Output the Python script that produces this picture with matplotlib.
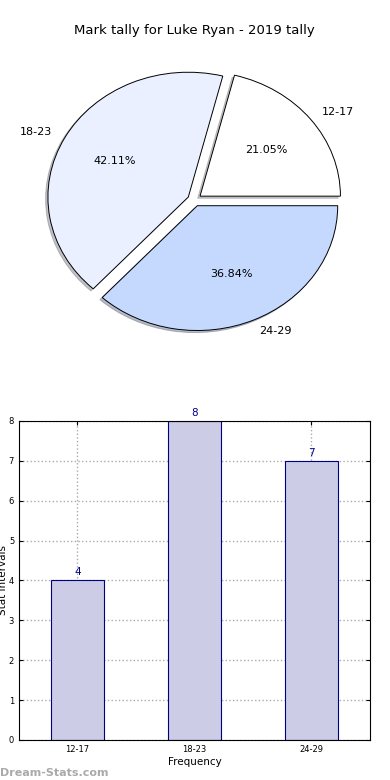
import matplotlib.pyplot as plt
import numpy as np

title = 'Mark tally for Luke Ryan - 2019 tally'
groups = ['12-17', '18-23', '24-29']
counts = [4, 8, 7]
pie_colors = ['#ffffff', '#eaf0ff', '#c5d9ff']

fig = plt.figure(figsize=(3.9, 7.8), dpi=100)

# pie on top
ax1 = fig.add_axes([0.0487, 0.5436, 0.9, 0.4])
ax1.pie(counts, labels=groups, colors=pie_colors, explode=[0.05] * 3,
        autopct='%1.2f%%', startangle=0,
        shadow={'ox': -0.012, 'oy': -0.012, 'shade': 0.45},
        wedgeprops={'edgecolor': 'black', 'linewidth': 0.7},
        textprops={'fontsize': 8})
ax1.set_aspect('auto')
ax1.set_xlim(-1.25, 1.25)
ax1.set_ylim(-1.25, 1.25)
ax1.set_title(title, fontsize=9.5, pad=7)

# bars underneath
ax2 = fig.add_axes([0.0487, 0.0513, 0.9, 0.409])
x = np.arange(len(groups))
ax2.bar(x, counts, width=0.45, color='#ccccE6', edgecolor='navy', linewidth=0.8, zorder=2)
for xi, c in zip(x, counts):
    ax2.text(xi, c + 0.08, str(c), ha='center', va='bottom', color='darkblue', fontsize=7.5)
ax2.set_xlim(-0.5, 2.5)
ax2.set_ylim(0, 8)
ax2.set_xticks(x)
ax2.set_xticklabels(groups)
ax2.set_yticks(range(9))
ax2.tick_params(labelsize=6, direction='in', right=True, top=True, length=3)
ax2.grid(True, linestyle=':', color='#aaaaaa', linewidth=1, zorder=0)
ax2.set_axisbelow(True)
ax2.set_xlabel('Frequency', fontsize=7.5, labelpad=2)
ax2.set_ylabel('Stat Intervals', fontsize=7.5)
ax2.yaxis.set_label_coords(-0.03, 0.5)

fig.text(0.0, 0.005, 'Dream-Stats.com', fontsize=8, color='#aaaaaa', fontweight='bold')

plt.savefig('out.png', dpi=100)
